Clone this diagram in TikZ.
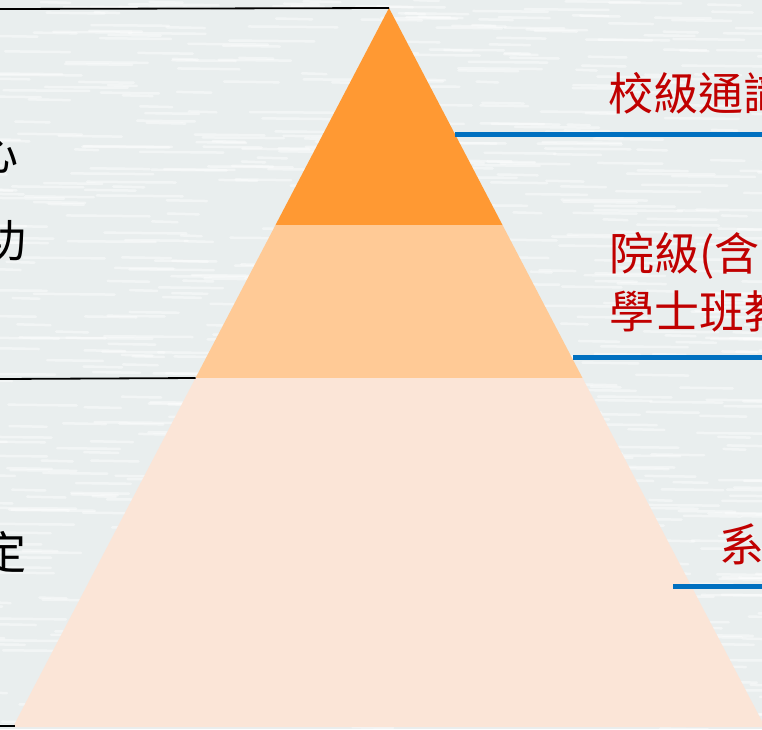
\documentclass[tikz,border=0pt]{standalone}
\usepackage{fontspec}
\usepackage{xcolor}
\usetikzlibrary{calc}
\newfontfamily\cjk{Noto Sans CJK TC}

\definecolor{paper}{HTML}{E9EEEE}
\definecolor{topband}{HTML}{FF9933}
\definecolor{midband}{HTML}{FFCA96}
\definecolor{lowband}{HTML}{FBE5D7}
\definecolor{levelred}{HTML}{C00000}
\definecolor{levelblue}{HTML}{0070C0}

\begin{document}
\begin{tikzpicture}[x=1pt,y=-1pt,
		redlabel/.style={anchor=base west, inner sep=0pt, text=levelred, font=\cjk\fontsize{45}{58}\selectfont, align=left},
		blacklabel/.style={anchor=base east, inner sep=0pt, text=black, font=\cjk\fontsize{45}{58}\selectfont},
		levelline/.style={levelblue, line width=5pt},
		frameline/.style={black, line width=1.8pt}]
		\useasboundingbox (0,0) rectangle (762,729);
		\clip (0,0) rectangle (762,729);
		
		% Background
		\fill[paper] (0,0) rectangle (762,729);
		\pgfmathsetseed{11}
		\foreach \i in {1,...,900}{
			\pgfmathsetmacro\xa{rnd*820-40}
			\pgfmathsetmacro\ya{rnd*729}
			\pgfmathsetmacro\len{20+rnd*70}
			\draw[white, line width=2.5pt, opacity=0.45, line cap=round] (\xa,\ya) -- ++(\len,0.8);
		}
		
		% Pyramid
		\coordinate (apex) at (389,8);
		\coordinate (t-l) at (275.5,225);
		\coordinate (t-r) at (502.5,225);
		\coordinate (m-l) at (195.5,378);
		\coordinate (m-r) at (582.5,378);
		\coordinate (b-l) at (13,727);
		\coordinate (b-r) at (765,727);
		\fill[topband] (apex) -- (t-r) -- (t-l) -- cycle;
		\fill[midband] (t-l) -- (t-r) -- (m-r) -- (m-l) -- cycle;
		\fill[lowband] (m-l) -- (m-r) -- (b-r) -- (b-l) -- cycle;
		
		% Left brackets
		\coordinate (f-top) at (0,9);
		\coordinate (f-mid) at (0,379);
		\coordinate (f-low) at (0,726);
		\coordinate (f-low-end) at (15,726);
		\draw[frameline] (f-top) -- (apex);
		\draw[frameline] (f-mid) -- (m-l);
		\draw[frameline] (f-low) -- (f-low-end);
		
		\node[blacklabel] (core) at (19,170) {心};
		\node[blacklabel] (gong) at (27,257) {功};
		\node[blacklabel] (ding) at (27,569) {定};
		
		% Levels
		\coordinate (s-top) at (455,134);
		\coordinate (s-mid) at (573,357);
		\coordinate (s-low) at (673,586);
		\draw[levelline] (s-top) -- (s-top -| 770,0);
		\draw[levelline] (s-mid) -- (s-mid -| 770,0);
		\draw[levelline] (s-low) -- (s-low -| 770,0);
		
		\node[redlabel] (school) at (608,110) {校級通識};
		\node[redlabel] (college) at (609,270) {院級(含};
		\node[redlabel] (bachelor) at (609,328) {學士班教};
		\node[redlabel] (dept) at (719,561) {系};
	  \end{tikzpicture}
\end{document}
